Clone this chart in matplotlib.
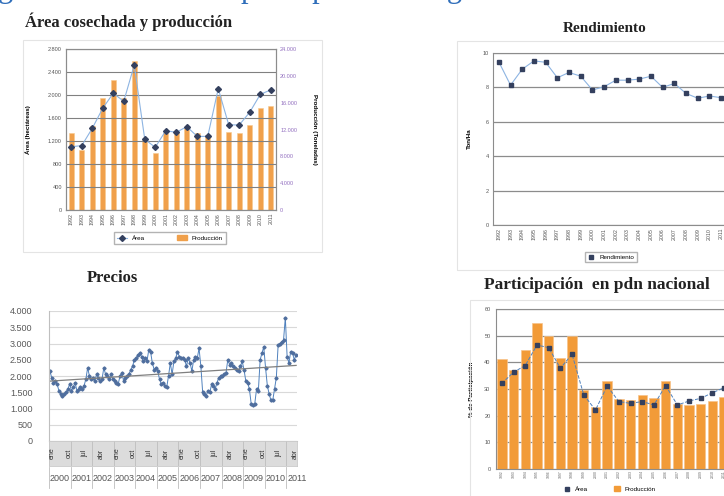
import numpy as np
import matplotlib
matplotlib.use("Agg")
import matplotlib.pyplot as plt
from matplotlib.lines import Line2D
from matplotlib.patches import Patch, Rectangle
from matplotlib.ticker import FuncFormatter

W, H = 724, 496

# --- data ---
years = list(range(1992, 2012))
area_ha = [1100, 1120, 1420, 1770, 2030, 1890, 2520, 1230, 1090, 1380,
           1350, 1450, 1280, 1280, 2110, 1480, 1480, 1700, 2010, 2090]
produccion_t = [11450, 8960, 12550, 16680, 19320, 16680, 22160, 10460, 8470, 11450,
                11450, 12200, 11450, 11200, 16930, 11700, 11450, 12700, 15190, 15540]

rendimiento = [9.48, 8.13, 9.06, 9.54, 9.46, 8.56, 8.87, 8.65, 7.85, 8.04,
               8.42, 8.42, 8.48, 8.65, 8.00, 8.23, 7.65, 7.37, 7.50, 7.40]

part_prod = [41.1, 37.1, 44.6, 54.6, 49.9, 41.5, 49.9, 29.6, 23.4, 33.1,
             26.1, 25.9, 27.8, 26.5, 33.0, 24.4, 24.0, 24.3, 25.6, 26.9]
part_area = [32.1, 36.3, 38.8, 46.5, 45.5, 37.8, 43.0, 27.8, 22.1, 31.1,
             25.3, 24.6, 25.3, 24.0, 31.3, 24.0, 25.5, 26.5, 28.6, 30.5]

# monthly prices, ene 2000 .. jun 2011
precios = [
    2150, 1950, 1800, 1850, 1750, 1550, 1450, 1400, 1450, 1500,
    1600, 1750, 1550, 1650, 1800, 1550, 1600, 1650, 1600, 1700,
    1900, 2250, 2000, 1900, 1950, 1850, 2050, 1950, 1850, 1900,
    2250, 2050, 2000, 1900, 2050, 1900, 1850, 1800, 1750, 2000,
    2100, 1850, 1950, 2000, 2050, 2200, 2300, 2500, 2550, 2650,
    2700, 2600, 2450, 2550, 2450, 2800, 2750, 2400, 2200, 2250,
    2150, 1900, 1750, 1800, 1700, 1650, 2000, 2400, 2050, 2450,
    2550, 2750, 2600, 2550, 2550, 2500, 2300, 2550, 2400, 2150,
    2500, 2600, 2550, 2850, 2300, 1500, 1450, 1400, 1550, 1500,
    1750, 1700, 1600, 1800, 1950, 2000, 2000, 2050, 2100, 2500,
    2350, 2400, 2300, 2250, 2200, 2150, 2300, 2450, 2200, 1850,
    1800, 1600, 1150, 1100, 1150, 1600, 1550, 2500, 2700, 2900,
    2250, 1700, 1450, 1250, 1250, 1600, 1950, 2950, 3000, 3050,
    3100, 3800, 2600, 2400, 2750, 2700, 2500, 2650,
]
mes_labels = ["ene", "oct", "jul", "abr"]
anios_precio = list(range(2000, 2012))


def box(x0, y0, x1, y1):
    return [x0 / W, 1 - y1 / H, (x1 - x0) / W, (y1 - y0) / H]


def miles(v, pos):
    return f"{int(v):,}".replace(",", ".")


plt.rcParams["font.family"] = ["Liberation Sans", "DejaVu Sans"]
fig = plt.figure(figsize=(W / 100, H / 100), dpi=100)

orange = "#F0A04B"
dark = "#34405E"
lightblue = "#8DB4E2"
serif = ["Liberation Serif", "DejaVu Serif"]

# cut-off heading and sub titles
fig.text(-2 / W, 1 + 3 / H, "gráficos del cultivo principal de la región",
         fontsize=22, color="#2F6EBA", family=serif, va="baseline")
fig.text(25 / W, 1 - 22 / H, "Área cosechada y producción", fontsize=12,
         family=serif, fontweight="bold", color="#222222", va="center")
fig.text(605 / W, 1 - 28 / H, "Rendimiento", fontsize=11, family=serif,
         fontweight="bold", color="#222222", ha="center", va="center")
fig.text(112 / W, 1 - 278 / H, "Precios", fontsize=12, family=serif,
         fontweight="bold", color="#222222", ha="center", va="center")
fig.text(597 / W, 1 - 285 / H, "Participación  en pdn nacional", fontsize=12.5,
         family=serif, fontweight="bold", color="#222222", ha="center", va="center")

# faint chart-area frames
for (x0, y0, x1, y1) in [(23, 40, 322, 252), (457, 41, 730, 270), (470, 300, 730, 500)]:
    fig.patches.append(Rectangle((x0 / W, 1 - y1 / H), (x1 - x0) / W, (y1 - y0) / H,
                                 transform=fig.transFigure, fill=False,
                                 edgecolor="#E4E4E4", lw=0.8))

# ---------------- Área cosechada y producción ----------------
x = np.arange(len(years))
ax1 = fig.add_axes(box(66, 49, 276, 210))
ax1b = ax1.twinx()
ax1.bar(x, produccion_t, width=0.45, color=orange, edgecolor="#F7C98E", lw=0.4)
ax1.set_ylim(0, 24000)
ax1.set_yticks(np.arange(0, 24001, 4000))
ax1.yaxis.set_major_formatter(FuncFormatter(miles))
ax1.set_xlim(-0.5, len(years) - 0.5)
ax1.set_xticks(x)
ax1.set_xticklabels([str(y) for y in years], rotation=90, fontsize=3.8, color="#555555")
ax1.tick_params(axis="x", length=0, pad=2)

ax1b.plot(x, area_ha, color=lightblue, lw=0.8, marker="D", ms=3,
          mfc=dark, mec=dark)
ax1b.set_ylim(0, 2800)
ax1b.set_yticks(np.arange(0, 2801, 400))
ax1b.yaxis.set_major_formatter(FuncFormatter(miles))
ax1b.grid(axis="y", color="#808080", lw=0.8)
ax1b.set_axisbelow(True)

# swap sides: area on the left, production on the right
ax1b.yaxis.tick_left()
ax1b.yaxis.set_label_position("left")
ax1.yaxis.tick_right()
ax1.yaxis.set_label_position("right")
ax1b.tick_params(axis="y", labelsize=4, colors="#555555", length=0, pad=3,
                 left=True, labelleft=True, right=False, labelright=False)
ax1.tick_params(axis="y", labelsize=4, colors="#9370C0", length=0, pad=3,
                right=True, labelright=True, left=False, labelleft=False)
ax1b.set_ylabel("Área (hectáreas)", fontsize=4.5, fontweight="bold", labelpad=12)
ax1.set_ylabel("Producción (Toneladas)", fontsize=4.5, fontweight="bold",
               rotation=-90, labelpad=14)
for a in (ax1, ax1b):
    for s in a.spines.values():
        s.set_color("#8C8C8C")
        s.set_linewidth(0.8)

fig.legend(handles=[Line2D([], [], color=lightblue, marker="D", ms=3, mfc=dark, mec=dark, lw=0.8),
                    Patch(color=orange)],
           labels=["Área", "Producción"], loc="center",
           bbox_to_anchor=(170 / W, 1 - 238 / H), ncol=2, fontsize=4.5,
           frameon=True, edgecolor="#A0A0A0", fancybox=False,
           handlelength=1.6, columnspacing=5, borderpad=0.5)

# ---------------- Rendimiento ----------------
ax2 = fig.add_axes(box(493, 53, 727, 225))
ax2.plot(x, rendimiento, color=lightblue, lw=0.8, marker="s", ms=3.2,
         mfc=dark, mec=dark)
ax2.set_ylim(0, 10)
ax2.set_yticks(np.arange(0, 11, 2))
ax2.set_xlim(-0.5, len(years) - 0.5)
ax2.set_xticks(x)
ax2.set_xticklabels([str(y) for y in years], rotation=90, fontsize=3.8, color="#555555")
ax2.tick_params(axis="x", length=0, pad=2)
ax2.tick_params(axis="y", labelsize=4, colors="#555555", length=0, pad=3)
ax2.grid(axis="y", color="#8C8C8C", lw=0.9)
ax2.set_ylabel("Ton/Ha", fontsize=4.5, fontweight="bold", labelpad=8)
for s in ax2.spines.values():
    s.set_color("#8C8C8C")
    s.set_linewidth(0.8)
fig.legend(handles=[Line2D([], [], color="none", marker="s", ms=3.2, mfc=dark, mec=dark)],
           labels=["Rendimiento"], loc="center",
           bbox_to_anchor=(611 / W, 1 - 257 / H), fontsize=4.5,
           frameon=True, edgecolor="#A0A0A0", fancybox=False, handlelength=1.0)

# ---------------- Precios ----------------
n = len(precios)
xm = np.arange(n)
ax3 = fig.add_axes(box(49, 311, 297, 441))
ax3.plot(xm, precios, color="#4F81BD", lw=0.7, marker="D", ms=1.6,
         mfc="#4F6E9E", mec="#4F6E9E")
coef = np.polyfit(xm, precios, 1)
ax3.plot(xm[[0, -1]], np.polyval(coef, xm[[0, -1]]), color="#7F7F7F", lw=0.9)
ax3.set_ylim(0, 4000)
ax3.set_yticks(np.arange(0, 4001, 500))
ax3.yaxis.set_major_formatter(FuncFormatter(miles))
ax3.set_xlim(-0.5, n - 0.5)
ax3.set_xticks([])
ax3.tick_params(axis="y", labelsize=6.5, colors="#595959", length=0, pad=12)
ax3.grid(axis="y", color="#D9D9D9", lw=0.8)
ax3.set_axisbelow(True)
for side in ("top", "right"):
    ax3.spines[side].set_visible(False)
ax3.spines["left"].set_color("#BFBFBF")
ax3.spines["bottom"].set_color("#BFBFBF")

band = fig.add_axes(box(49, 441, 297, 466), sharex=ax3)
band.set_facecolor("#DCDCDC")
band.set_yticks([])
band.tick_params(axis="x", length=0, labelbottom=False)
for s in band.spines.values():
    s.set_color("#C8C8C8")
    s.set_linewidth(0.6)
for k in range(0, n, 9):
    band.text(k + 1.5, 0.5, mes_labels[(k // 9) % 4], rotation=90, fontsize=5,
              color="#333333", ha="center", va="center",
              transform=band.get_xaxis_transform())
for j in range(len(anios_precio) + 1):
    band.axvline(j * 12 - 0.5, color="#BDBDBD", lw=0.6)
yr_t = ax3.get_xaxis_transform()
for j, yv in enumerate(anios_precio):
    ax3.text(j * 12 + 5.5, -0.285, str(yv), transform=yr_t, fontsize=6.5,
             color="#555555", ha="center", va="center", clip_on=False)
    ax3.plot([j * 12 - 0.5] * 2, [-0.2, -0.36], transform=yr_t, color="#BDBDBD",
             lw=0.6, clip_on=False)

# ---------------- Participación en pdn nacional ----------------
ax4 = fig.add_axes(box(496, 309, 730, 469))
ax4.bar(x, part_prod, width=0.8, color="#F29B38", edgecolor="#F7C38A", lw=0.5)
ax4.plot(x, part_area, color="#4F81BD", lw=0.7, ls="--", marker="s", ms=3.2,
         mfc=dark, mec=dark)
ax4.set_ylim(0, 60)
ax4.set_yticks(np.arange(0, 61, 10))
ax4.set_xlim(-0.5, len(years) - 0.5)
ax4.set_xticks(x)
ax4.set_xticklabels([str(y) for y in years], rotation=90, fontsize=2.5, color="#666666")
ax4.tick_params(axis="x", length=0, pad=1)
ax4.tick_params(axis="y", labelsize=4, colors="#555555", length=0, pad=4)
ax4.grid(axis="y", color="#8C8C8C", lw=0.9)
ax4.set_axisbelow(True)
ax4.set_ylabel("% de Participación", fontsize=4.5, fontweight="bold", labelpad=7)
for s in ax4.spines.values():
    s.set_color("#8C8C8C")
    s.set_linewidth(0.8)
fig.legend(handles=[Line2D([], [], color="none", marker="s", ms=3, mfc=dark, mec=dark),
                    Patch(color="#F29B38")],
           labels=["Área", "Producción"], loc="center",
           bbox_to_anchor=(610 / W, 1 - 489 / H), ncol=2, fontsize=4.5,
           frameon=False, handlelength=1.0, columnspacing=4)

fig.savefig("out.png", dpi=100)
